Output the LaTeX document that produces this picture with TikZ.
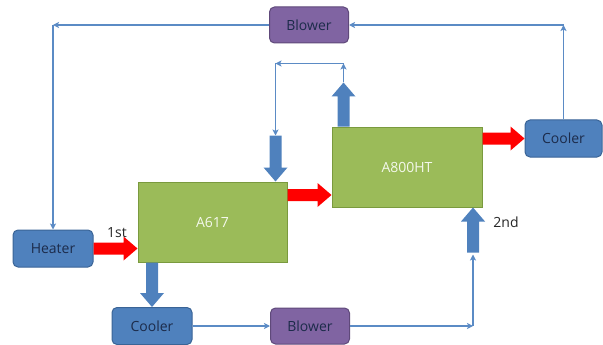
\documentclass[tikz,border=0pt]{standalone}
\usepackage{fontspec}
\setmainfont{Open Sans}
\usetikzlibrary{calc,arrows.meta}

\definecolor{boxblue}{HTML}{4F81BD}
\definecolor{boxblueedge}{HTML}{3A6496}
\definecolor{boxpurple}{HTML}{8064A2}
\definecolor{boxpurpleedge}{HTML}{5F497A}
\definecolor{boxgreen}{HTML}{9BBB59}
\definecolor{boxgreenedge}{HTML}{7A9A3E}
\definecolor{flowred}{HTML}{FF0000}
\definecolor{pipeblue}{HTML}{5B8BC5}
\definecolor{thickblue}{HTML}{4F81BD}
\definecolor{labeldark}{HTML}{1C2B4A}
\definecolor{labellight}{HTML}{F4F8EC}

% Wide block arrow from #1 to #2, filled with colour #3
\newcommand\blockarr[3]{%
  \fill[#3] ($(#1)!6pt!90:(#2)$)
    -- ($(#2)!14pt!(#1)!6pt!90:(#2)$)
    -- ($(#2)!14pt!(#1)!12pt!90:(#2)$)
    -- (#2)
    -- ($(#2)!14pt!(#1)!12pt!-90:(#2)$)
    -- ($(#2)!14pt!(#1)!6pt!-90:(#2)$)
    -- ($(#1)!6pt!-90:(#2)$) -- cycle;}

\tikzset{
  unitbox/.style={rounded corners=5pt, line width=1pt, inner sep=0pt,
    font=\fontsize{14}{16}\selectfont},
  bluebox/.style={unitbox, fill=boxblue, draw=boxblueedge, text=labeldark,
    minimum width=80pt, minimum height=37pt},
  purplebox/.style={unitbox, fill=boxpurple, draw=boxpurpleedge, text=labeldark,
    minimum width=79pt, minimum height=36pt},
  chamber/.style={draw=boxgreenedge, fill=boxgreen, line width=1pt,
    text=labellight, minimum width=149pt, minimum height=80pt,
    font=\fontsize{14}{16}\selectfont},
  pipe/.style={draw=pipeblue, line width=1.6pt,
    -{Stealth[length=6pt,width=6pt,inset=1.5pt]}},
  tag/.style={font=\fontsize{14}{16}\selectfont, text=black!85, inner sep=0pt}
}

\begin{document}
\begin{tikzpicture}[x=1pt,y=-1pt]
\useasboundingbox (0,0) rectangle (603,345);

% units
\node[purplebox] (blowerT) at (309,25) {Blower};
\node[bluebox]   (heater)  at (53,248.5) {Heater};
\node[bluebox]   (coolerB) at (152,326) {Cooler};
\node[purplebox] (blowerB) at (310,326) {Blower};
\node[bluebox, minimum width=77pt] (coolerR) at (563.5,138.5) {Cooler};
\node[chamber] (a617) at (212.5,222) {A617};
\node[chamber, minimum width=150pt] (a800) at (407,167) {A800HT};

% helper points
\coordinate (c1) at (heater.north |- blowerT.west);
\coordinate (c2) at (coolerR.north |- blowerT.east);
\coordinate (r2a) at ([yshift=27pt]a617.east);
\coordinate (r2b) at (r2a -| a800.west);
\coordinate (u1) at ([xshift=-12pt]a617.north east);
\coordinate (d1) at ([yshift=46pt]u1);
\coordinate (u2) at ([xshift=12pt]a800.north west);
\coordinate (u3) at ([yshift=44pt]u2);
\coordinate (lt) at ([yshift=19pt]u3);
\coordinate (ll) at (lt -| u1);
\coordinate (v1) at ([xshift=-9.5pt]a800.south east);
\coordinate (v2) at ([yshift=-45pt]v1);
\coordinate (v3) at ([yshift=-2pt]v2);
\coordinate (c5) at (v1 |- blowerB.east);

% recirculation lines
\draw[pipe] (blowerT.west) -- (c1);
\draw[pipe] (c1) -- (heater.north);
\draw[pipe] (coolerR.north) -- (c2);
\draw[pipe] (c2) -- (blowerT.east);
\draw[pipe] (u3) -- (lt);
\draw[pipe] (lt) -- (ll);
\draw[pipe] (ll) -- (d1);
\draw[pipe] (coolerB.east) -- (blowerB.west);
\draw[pipe] (blowerB.east) -- (c5);
\draw[pipe] (c5) -- (v3);

% main gas flow
\blockarr{heater.east}{heater.east -| a617.west}{flowred}
\blockarr{r2a}{r2b}{flowred}
\blockarr{a800.east |- coolerR.west}{coolerR.west}{flowred}

% side streams
\blockarr{u2}{u3}{thickblue}
\blockarr{d1}{u1}{thickblue}
\blockarr{coolerB.north |- a617.south}{coolerB.north}{thickblue}
\blockarr{v2}{v1}{thickblue}

% stage labels
\node[tag] (first)  at (117,233) {1st};
\node[tag] (second) at (506,222) {2nd};
\end{tikzpicture}
\end{document}
